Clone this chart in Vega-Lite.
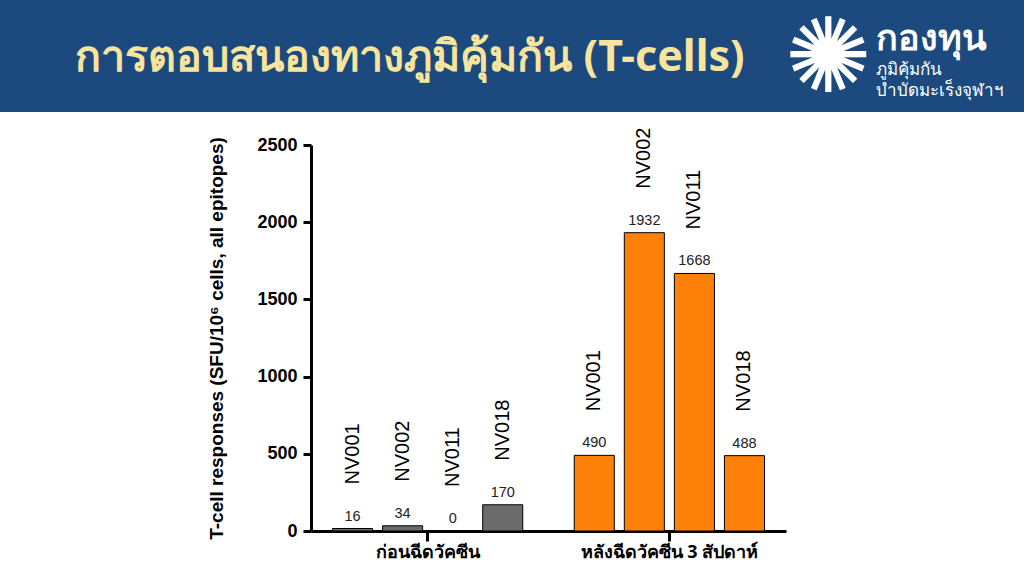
{
  "$schema": "https://vega.github.io/schema/vega-lite/v6.json",
  "background": "white",
  "padding": 0,
  "spacing": 14,
  "config": {
    "view": {"stroke": null},
    "axis": {"grid": false}
  },
  "vconcat": [
    {
      "spacing": 0,
      "bounds": "flush",
      "hconcat": [
        {
          "width": 780,
          "height": 112,
          "view": {"fill": "#1c4a7e", "stroke": null},
          "data": {"values": [{"t": "การตอบสนองทางภูมิคุ้มกัน (T-cells)"}]},
          "mark": {"type": "text", "font": "Noto Sans", "fontWeight": "bold", "fontSize": 43, "color": "#f8e49c", "dx": 20, "dy": 2, "baseline": "middle"},
          "encoding": {"text": {"field": "t"}}
        },
        {
          "width": 244,
          "height": 112,
          "view": {"fill": "#1c4a7e", "stroke": null},
          "title": {
            "text": "กองทุน",
            "subtitle": ["ภูมิคุ้มกัน", "บำบัดมะเร็งจุฬาฯ"],
            "anchor": "start",
            "orient": "top",
            "offset": -100,
            "dx": 96,
            "font": "Noto Sans",
            "fontSize": 36,
            "fontWeight": "bold",
            "color": "white",
            "subtitleFont": "Noto Sans",
            "subtitleFontSize": 17,
            "subtitleColor": "white",
            "subtitleLineHeight": 21,
            "subtitlePadding": 4
          },
          "data": {"values": [{"icon": "✺"}]},
          "mark": {"type": "text", "font": "DejaVu Sans", "fontSize": 104, "color": "white", "dx": -74, "dy": 5, "baseline": "middle"},
          "encoding": {"text": {"field": "icon"}}
        }
      ]
    },
    {
      "spacing": 0,
      "hconcat": [
        {
          "width": 207,
          "height": 1,
          "data": {"values": []},
          "mark": "point"
        },
        {
          "width": 475,
          "height": 386,
          "data": {
            "values": [
              {"group": "ก่อนฉีดวัคซีน", "subject": "NV001", "value": 16},
              {"group": "ก่อนฉีดวัคซีน", "subject": "NV002", "value": 34},
              {"group": "ก่อนฉีดวัคซีน", "subject": "NV011", "value": 0},
              {"group": "ก่อนฉีดวัคซีน", "subject": "NV018", "value": 170},
              {"group": "หลังฉีดวัคซีน 3 สัปดาห์", "subject": "NV001", "value": 490},
              {"group": "หลังฉีดวัคซีน 3 สัปดาห์", "subject": "NV002", "value": 1932},
              {"group": "หลังฉีดวัคซีน 3 สัปดาห์", "subject": "NV011", "value": 1668},
              {"group": "หลังฉีดวัคซีน 3 สัปดาห์", "subject": "NV018", "value": 488}
            ]
          },
          "encoding": {
            "x": {
              "field": "group",
              "type": "nominal",
              "sort": null,
              "scale": {"paddingInner": 0.213, "paddingOuter": 0.089},
              "axis": {
                "title": null,
                "labelAngle": 0,
                "domainWidth": 3,
                "domainColor": "black",
                "tickWidth": 3,
                "tickColor": "black",
                "tickSize": 10,
                "labelFont": "Noto Sans",
                "labelFontWeight": "bold",
                "labelFontSize": 18,
                "labelColor": "black",
                "labelPadding": 2
              }
            },
            "xOffset": {
              "field": "subject",
              "type": "nominal",
              "sort": null,
              "scale": {"paddingInner": 0.2, "paddingOuter": 0}
            },
            "y": {
              "field": "value",
              "type": "quantitative",
              "scale": {"domain": [0, 2500], "nice": false},
              "axis": {
                "title": "T-cell responses (SFU/10⁶ cells, all epitopes)",
                "titleFont": "Liberation Sans",
                "titleFontWeight": "bold",
                "titleFontSize": 19,
                "titleColor": "black",
                "titlePadding": 30,
                "values": [0, 500, 1000, 1500, 2000, 2500],
                "format": "d",
                "domainWidth": 3,
                "domainColor": "black",
                "tickWidth": 3,
                "tickColor": "black",
                "tickSize": 8,
                "labelFont": "Liberation Sans",
                "labelFontWeight": "bold",
                "labelFontSize": 18,
                "labelColor": "black",
                "labelPadding": 6
              }
            }
          },
          "layer": [
            {
              "mark": {"type": "bar", "stroke": "black", "strokeWidth": 1},
              "encoding": {
                "color": {
                  "field": "group",
                  "type": "nominal",
                  "sort": null,
                  "scale": {"range": ["#6b6b6b", "#fd8008"]},
                  "legend": null
                }
              }
            },
            {
              "mark": {"type": "text", "font": "Liberation Sans", "fontSize": 14.5, "color": "#222222", "baseline": "bottom", "yOffset": -5},
              "encoding": {"text": {"field": "value", "type": "quantitative"}}
            },
            {
              "mark": {"type": "text", "font": "Liberation Sans", "fontSize": 20, "color": "black", "angle": 270, "align": "left", "baseline": "middle", "yOffset": -44},
              "encoding": {"text": {"field": "subject", "type": "nominal"}}
            }
          ]
        }
      ]
    }
  ]
}
